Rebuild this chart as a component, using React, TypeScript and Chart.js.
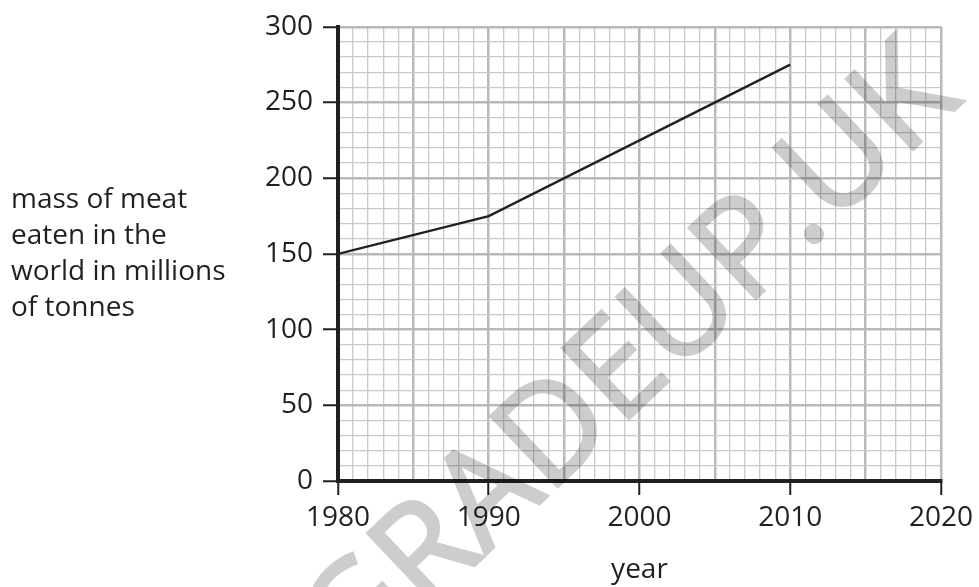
import React, { useEffect, useRef } from 'react';
import { Chart, registerables } from 'chart.js';

Chart.register(...registerables);

const years = [1980, 1990, 2000, 2010];
const meatMass = [150, 175, 225, 275];
const xMin = 1980;
const xMax = 2020;
const yMin = 0;
const yMax = 300;
const yLabelLines = ['mass of meat', 'eaten in the', 'world in millions', 'of tonnes'];
const xTitle = 'year';
const watermarkPrefix = 'GRADEUP';
const watermarkDot = '.';
const watermarkSuffix = 'UK';

export default function App() {
  const ref = useRef<HTMLCanvasElement>(null);

  useEffect(() => {
    if (!ref.current) return;
    const ink = '#231f20';
    const fam = "'Open Sans', 'DejaVu Sans', sans-serif";
    const minor = '#c9c9cc';
    const major = '#b9b9bd';
    const fs = 28;

    const leftLabel = {
      id: 'leftLabel',
      afterDraw(chart: any) {
        const ctx = chart.ctx;
        ctx.save();
        ctx.font = `${fs}px ${fam}`;
        ctx.fillStyle = ink;
        ctx.textAlign = 'left';
        ctx.textBaseline = 'alphabetic';
        yLabelLines.forEach((t, i) => ctx.fillText(t, 11, 208 + i * 36));
        ctx.restore();
      },
    };

    const watermark = {
      id: 'watermark',
      afterDraw(chart: any) {
        const ctx = chart.ctx;
        const off = document.createElement('canvas');
        off.width = chart.width;
        off.height = chart.height;
        const o = off.getContext('2d')!;
        o.fillStyle = '#ffffff';
        o.fillRect(0, 0, off.width, off.height);
        const size = 136;
        o.font = `${size}px ${fam}`;
        const text = watermarkPrefix + watermarkDot + watermarkSuffix;
        const wPre = o.measureText(watermarkPrefix).width;
        const wDot = o.measureText(watermarkDot).width;
        const th = (-43.5 * Math.PI) / 180;
        const a = wPre + wDot / 2;
        const b = -0.06 * size;
        const ax = 813, ay = 233;
        const ox = ax - (a * Math.cos(th) - b * Math.sin(th));
        const oy = ay - (a * Math.sin(th) + b * Math.cos(th));
        o.translate(ox, oy);
        o.rotate(th);
        o.textAlign = 'left';
        o.textBaseline = 'alphabetic';
        o.fillStyle = '#cdcdcd';
        o.strokeStyle = '#cdcdcd';
        o.lineWidth = 3;
        o.fillText(text, 0, 0);
        o.strokeText(text, 0, 0);
        ctx.save();
        ctx.globalCompositeOperation = 'multiply';
        ctx.drawImage(off, 0, 0);
        ctx.restore();
      },
    };

    const chart = new Chart(ref.current, {
      type: 'line',
      data: {
        datasets: [
          {
            data: years.map((x, i) => ({ x, y: meatMass[i] })),
            borderColor: ink,
            borderWidth: 2.3,
            pointRadius: 0,
            tension: 0,
            fill: false,
          },
        ],
      },
      options: {
        responsive: false,
        animation: false,
        layout: { padding: { left: 0, top: 25, right: 37, bottom: 0 } },
        plugins: {
          legend: { display: false },
          tooltip: { enabled: false },
        },
        scales: {
          x: {
            type: 'linear',
            min: xMin,
            max: xMax,
            afterFit(scale: any) {
              scale.height = 106;
            },
            ticks: {
              stepSize: 1,
              autoSkip: false,
              maxRotation: 0,
              padding: 6,
              color: ink,
              font: { family: fam, size: fs },
              callback: (v: any) => (Number(v) % 10 === 0 ? String(v) : ''),
            },
            grid: {
              color: (c: any) => (c.tick && c.tick.value % 5 === 0 ? major : minor),
              lineWidth: (c: any) => (c.tick && c.tick.value % 5 === 0 ? 2.5 : 1.3),
              drawTicks: true,
              tickLength: 14,
              tickWidth: 2,
              tickColor: (c: any) => (c.tick && c.tick.value % 10 === 0 ? ink : 'rgba(0,0,0,0)'),
            },
            border: { display: true, color: ink, width: 4 },
            title: {
              display: true,
              text: xTitle,
              color: ink,
              font: { family: fam, size: fs },
              padding: { top: 0, bottom: 0 },
            },
          },
          y: {
            type: 'linear',
            min: yMin,
            max: yMax,
            afterFit(scale: any) {
              scale.width = 338;
            },
            ticks: {
              stepSize: 10,
              autoSkip: false,
              padding: 10,
              color: ink,
              font: { family: fam, size: fs },
              callback: (v: any) => (Number(v) % 50 === 0 ? String(v) : ''),
            },
            grid: {
              color: (c: any) => (c.tick && c.tick.value % 50 === 0 ? major : minor),
              lineWidth: (c: any) => (c.tick && c.tick.value % 50 === 0 ? 2.5 : 1.3),
              drawTicks: true,
              tickLength: 15,
              tickWidth: 2,
              tickColor: (c: any) => (c.tick && c.tick.value % 50 === 0 ? ink : 'rgba(0,0,0,0)'),
            },
            border: { display: true, color: ink, width: 4 },
          },
        },
      },
      plugins: [leftLabel, watermark],
    });

    return () => chart.destroy();
  }, []);

  return (
    <div style={{ position: 'absolute', left: 0, top: 0, width: 979, height: 587, background: '#fff' }}>
      <canvas ref={ref} width={979} height={587} />
    </div>
  );
}
